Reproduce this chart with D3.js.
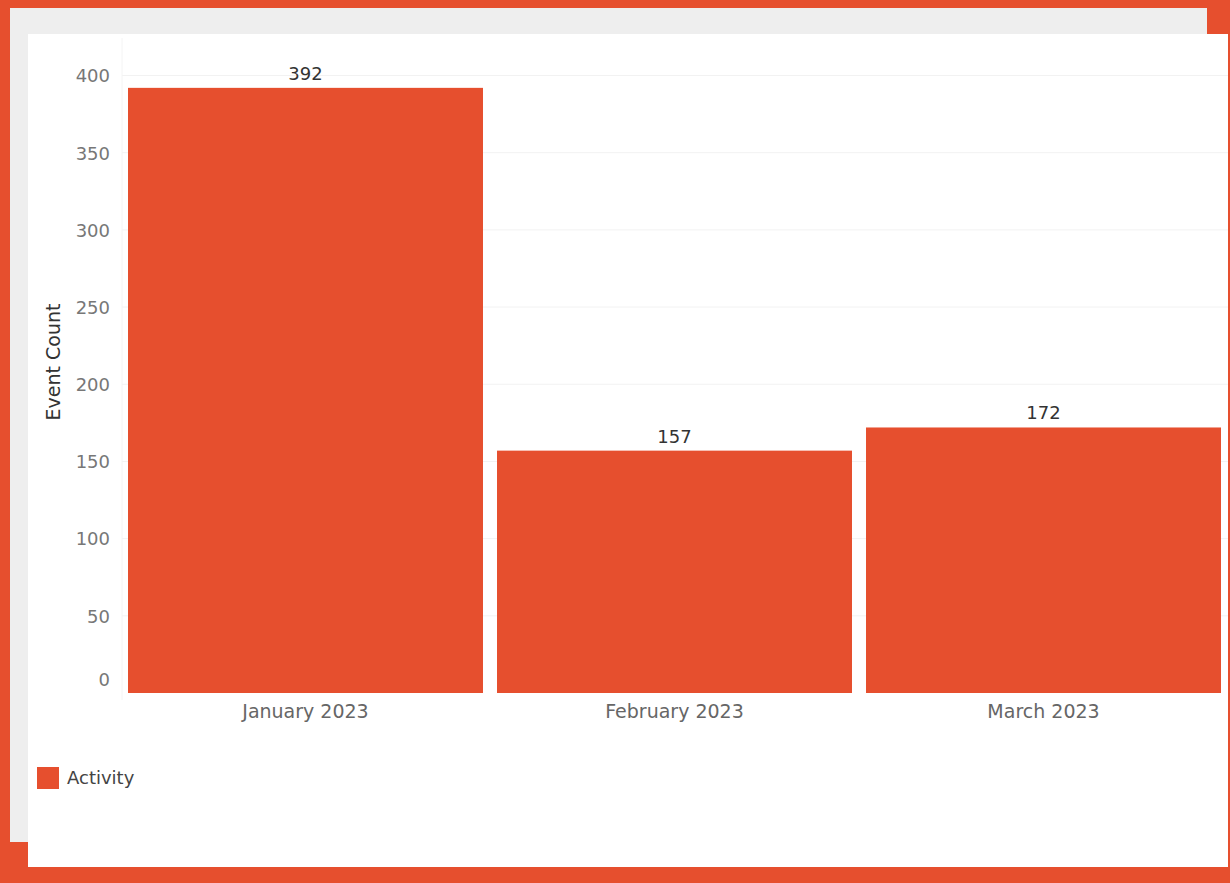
<!DOCTYPE html>
<html>
<head>
<meta charset="utf-8">
<script src="https://cdn.jsdelivr.net/npm/d3@7"></script>
<style>
  body { margin: 0; background: #e64f2e; }
  #chart { position: absolute; left: 0; top: 0; }
</style>
</head>
<body>
<div id="chart"></div>
<script>
// Data
const months = ["January 2023", "February 2023", "March 2023"];
const counts = [392, 157, 172];
const yTicks = [0, 50, 100, 150, 200, 250, 300, 350, 400];
const seriesName = "Activity";

const width = 1230;
const height = 883;
const barColor = "#e64f2e";
const font = "'DejaVu Sans', Verdana, sans-serif";

const svg = d3.select("#chart")
    .append("svg")
    .attr("width", width)
    .attr("height", height);

// Background panels
svg.append("rect")
    .attr("x", 10).attr("y", 8)
    .attr("width", 1197).attr("height", 834)
    .attr("fill", "#eeeeee");
svg.append("rect")
    .attr("x", 28).attr("y", 34)
    .attr("width", 1200).attr("height", 833)
    .attr("fill", "#ffffff");

// Scales
const xScale = d3.scaleBand()
    .domain(months)
    .range([121, 1228])
    .paddingInner(0.038)
    .paddingOuter(0.019);

const yScale = d3.scaleLinear()
    .domain([0, 400])
    .range([693, 75.5]);

// Grid lines
svg.append("g")
    .selectAll("line")
    .data(yTicks.filter(d => d > 0))
    .enter()
    .append("line")
    .attr("x1", 122)
    .attr("x2", 1228)
    .attr("y1", d => yScale(d))
    .attr("y2", d => yScale(d))
    .attr("stroke", "#f2f2f2")
    .attr("stroke-width", 1);

svg.append("line")
    .attr("x1", 122).attr("x2", 122)
    .attr("y1", 38).attr("y2", 700)
    .attr("stroke", "#f4f4f4");

// Y axis
const yAxis = svg.append("g")
    .attr("transform", "translate(110,0)")
    .call(d3.axisLeft(yScale).tickValues(yTicks).tickSize(0).tickPadding(0));
yAxis.select(".domain").remove();
yAxis.selectAll("text")
    .attr("font-family", font)
    .attr("font-size", 18)
    .attr("fill", "#777")
    .attr("dy", d => d === 0 ? "-0.4em" : "0.35em");

// X axis
const xAxis = svg.append("g")
    .attr("transform", `translate(0,${yScale(0)})`)
    .call(d3.axisBottom(xScale).tickSize(0).tickPadding(12));
xAxis.select(".domain").remove();
xAxis.selectAll("text")
    .attr("font-family", font)
    .attr("font-size", 19)
    .attr("fill", "#666");

// Bars
svg.selectAll(".bar")
    .data(counts)
    .enter()
    .append("rect")
    .attr("class", "bar")
    .attr("x", (d, i) => xScale(months[i]))
    .attr("y", d => yScale(d))
    .attr("width", xScale.bandwidth())
    .attr("height", d => yScale(0) - yScale(d))
    .attr("fill", barColor);

// Value labels
svg.selectAll(".value")
    .data(counts)
    .enter()
    .append("text")
    .attr("class", "value")
    .attr("x", (d, i) => xScale(months[i]) + xScale.bandwidth() / 2)
    .attr("y", d => yScale(d) - 8)
    .attr("text-anchor", "middle")
    .attr("font-family", font)
    .attr("font-size", 18)
    .attr("fill", "#333")
    .text(d => d);

// Y axis title
svg.append("text")
    .attr("transform", "translate(60,362) rotate(-90)")
    .attr("text-anchor", "middle")
    .attr("font-family", font)
    .attr("font-size", 19)
    .attr("fill", "#333")
    .text("Event Count");

// Legend
svg.append("rect")
    .attr("x", 37).attr("y", 767)
    .attr("width", 22).attr("height", 22)
    .attr("fill", barColor);
svg.append("text")
    .attr("x", 67).attr("y", 784)
    .attr("font-family", font)
    .attr("font-size", 18)
    .attr("fill", "#444")
    .text(seriesName);
</script>
</body>
</html>
